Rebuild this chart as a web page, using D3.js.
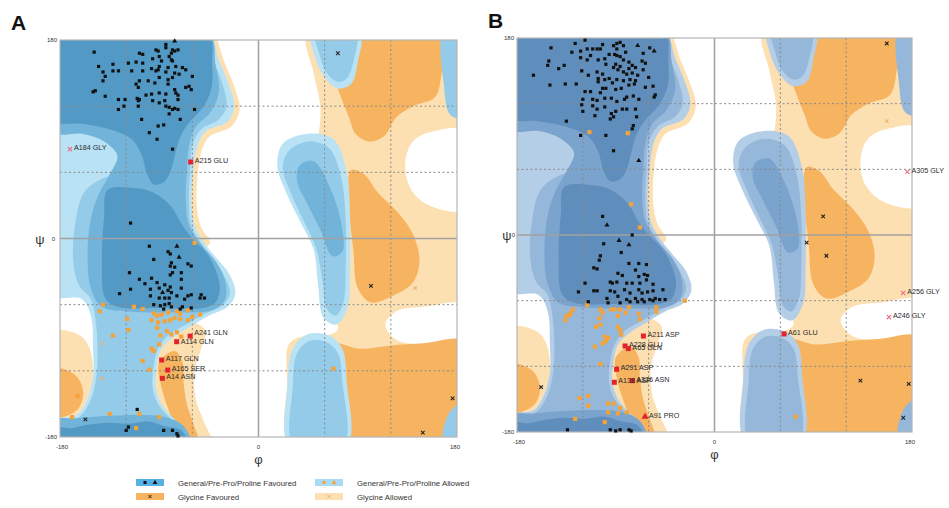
<!DOCTYPE html>
<html>
<head>
<meta charset="utf-8">
<script src="https://cdn.jsdelivr.net/npm/d3@7"></script>
<style>
  body { margin: 0; background: #fff; font-family: Arial, "Liberation Sans", sans-serif; }
</style>
</head>
<body>
<svg id="chart" width="949" height="508"></svg>
<script>
// ---- contour regions, [phi, psi] in degrees ----
const gaRight = [[45,180],[180,180],[180,-180],[30,-180],[26,-130],[28,-95],[45,-88],[62,-88],[72,-82],[62,-60],[56,-30],[52,0],[48,30],[47,60],[54,90],[56,120],[50,150]];
const gaLeftEdge = [[-180,-85],[-162,-88],[-153,-100],[-150,-125],[-155,-145],[-165,-160],[-180,-165]];
const gaStrip = [[-60,-76],[-48,-84],[-52,-100],[-58,-120],[-57,-145],[-50,-165],[-42,-180],[-80,-180],[-92,-150],[-98,-120],[-95,-95],[-78,-84]];
const gaTopEdge = [[-70,180],[-43,180],[-31,160],[-21,135],[-17,118],[-24,102],[-45,92],[-52,78],[-55,60],[-56,30],[-52,10],[-44,-4],[-55,-10],[-70,0]];
const cutTop = [[180,97],[158,97],[140,88],[133,68],[138,45],[155,30],[180,27]];
const cutMid = [[180,-60],[150,-62],[125,-66],[115,-78],[125,-92],[150,-96],[180,-95]];

const gfTop = [[68,180],[168,180],[166,150],[160,128],[140,120],[125,110],[114,93],[100,88],[88,95],[82,110],[76,125],[68,150]];
const gfMid = [[84,62],[96,58],[108,42],[126,24],[140,4],[146,-20],[140,-40],[122,-52],[102,-58],[90,-45],[86,-10],[82,30]];
const gfBottom = [[66,-96],[92,-100],[120,-97],[150,-95],[180,-94],[180,-180],[70,-180],[64,-140]];
const gfStrip = [[-76,-102],[-69,-112],[-68,-130],[-65,-150],[-59,-168],[-54,-180],[-72,-180],[-80,-160],[-88,-135],[-90,-112]];
const gfLeftEdge = [[-180,-118],[-166,-124],[-159,-140],[-165,-156],[-180,-162]];

const genL1 = [[-180,180],[-47,180],[-36,162],[-27,140],[-22,120],[-28,106],[-48,97],[-56,82],[-59,60],[-61,35],[-58,12],[-50,-3],[-38,-18],[-26,-33],[-21,-50],[-28,-62],[-45,-70],[-62,-80],[-78,-90],[-88,-100],[-92,-115],[-93,-135],[-88,-150],[-78,-162],[-68,-172],[-62,-180],[-180,-180],[-180,-165],[-165,-160],[-155,-145],[-150,-125],[-150,-100],[-152,-70],[-160,-55],[-180,-50]];
const genL2 = [[-180,180],[-49,180],[-40,160],[-32,138],[-29,120],[-36,108],[-52,99],[-60,84],[-62,60],[-63,35],[-61,12],[-53,-3],[-40,-20],[-30,-36],[-26,-50],[-33,-61],[-48,-68],[-64,-77],[-82,-88],[-91,-100],[-95,-115],[-96,-135],[-91,-150],[-81,-162],[-71,-172],[-65,-180],[-180,-180],[-180,-168],[-163,-162],[-152,-146],[-147,-125],[-146,-100],[-148,-72],[-152,-55],[-163,-42],[-168,-20],[-166,15],[-158,42],[-140,55],[-118,60],[-108,75],[-122,90],[-150,96],[-180,100]];
const genL3 = [[-180,180],[-46,180],[-39,158],[-36,132],[-44,114],[-57,101],[-63,84],[-65,60],[-66,35],[-63,12],[-53,-4],[-38,-22],[-30,-40],[-31,-57],[-42,-65],[-80,-67],[-120,-66],[-142,-62],[-152,-45],[-155,-15],[-152,18],[-145,40],[-135,58],[-128,75],[-140,88],[-160,95],[-180,97]];
const genL3c = [[-180,-180],[-62,-180],[-68,-170],[-84,-162],[-110,-160],[-140,-161],[-165,-163],[-180,-165]];
const genL4a = [[-180,180],[-47,180],[-42,158],[-43,135],[-51,118],[-63,105],[-71,92],[-76,75],[-80,60],[-86,51],[-95,49],[-101,58],[-106,76],[-115,90],[-135,99],[-160,104],[-180,108]];
const genL4b = [[-137,44],[-115,46],[-96,42],[-80,30],[-69,12],[-60,0],[-48,-12],[-39,-28],[-35,-45],[-39,-58],[-50,-63],[-90,-63],[-128,-62],[-139,-54],[-142,-20],[-140,20]];
const genL4c = [[-180,-180],[-64,-180],[-70,-174],[-86,-170],[-100,-166],[-118,-168],[-135,-167],[-155,-169],[-170,-172],[-180,-171]];

const r1L1 = [[22,86],[45,95],[68,90],[80,60],[83,20],[83,-30],[81,-62],[71,-78],[59,-72],[54,-42],[50,-10],[38,15],[25,42],[17,66]];
const r1L2 = [[28,80],[46,88],[64,82],[75,55],[79,18],[79,-28],[77,-58],[70,-70],[62,-64],[58,-38],[52,-8],[40,18],[29,42],[22,64]];
const r1L3 = [[37,66],[50,70],[64,48],[75,14],[76,-12],[67,-16],[56,8],[44,32],[35,52]];
const r2L1 = [[48,180],[92,180],[90,160],[84,140],[72,136],[60,146],[50,168]];
const r2L2 = [[52,180],[88,180],[86,160],[80,145],[72,142],[62,150],[55,168]];
const r3L1 = [[28,-180],[80,-180],[80,-130],[76,-100],[64,-88],[44,-87],[31,-100],[26,-135]];
const r3L2 = [[32,-180],[77,-180],[76,-130],[72,-104],[62,-94],[46,-93],[35,-104],[31,-135]];
const r4 = [[168,180],[180,180],[180,110],[174,112],[168,140]];
const r5 = [[168,-180],[180,-180],[180,-148],[173,-158]];

// ---- residues, panel A ----
const aFav = [[-84,176],[-149,169],[-108,168],[-105,167],[-93,171],[-91,170],[-84,173],[-78,171],[-76,170],[-73,171],[-79,168],[-81,165],[-79,162],[-78,161],[-90,165],[-96,163],[-88,161],[-145,156],[-132,158],[-118,159],[-111,160],[-105,159],[-97,154],[-90,156],[-91,153],[-82,155],[-75,156],[-69,155],[-66,153],[-141,151],[-139,147],[-132,152],[-127,152],[-115,152],[-105,152],[-93,152],[-84,151],[-76,150],[-141,143],[-108,143],[-100,143],[-94,141],[-90,146],[-82,144],[-78,146],[-72,149],[-60,147],[-148,134],[-150,133],[-139,129],[-111,140],[-109,137],[-82,140],[-76,135],[-66,137],[-63,138],[-61,135],[-127,126],[-121,126],[-110,127],[-108,126],[-109,125],[-102,130],[-97,131],[-90,132],[-84,131],[-75,132],[-73,130],[-73,126],[-96,125],[-90,123],[-85,125],[-84,120],[-81,119],[-76,118],[-78,117],[-73,117],[-58,117],[-127,117],[-122,120],[-109,120],[-81,113],[-71,108],[-106,108],[-91,102],[-86,103],[-99,96],[-92,90],[-78,81],[-116,14],
  [-99,-7],[-82,-12],[-80,-14],[-95,-19],[-79,-22],[-80,-25],[-76,-26],[-64,-23],[-61,-25],[-117,-31],[-108,-37],[-97,-36],[-80,-33],[-78,-31],[-70,-31],[-70,-37],[-103,-41],[-92,-40],[-85,-42],[-80,-44],[-116,-46],[-98,-46],[-90,-45],[-82,-47],[-79,-49],[-70,-45],[-64,-52],[-61,-51],[-126,-50],[-98,-52],[-90,-54],[-85,-54],[-81,-54],[-74,-52],[-52,-51],[-49,-54],[-53,-54],[-67,-55],[-95,-60],[-89,-61],[-85,-60],[-81,-59],[-79,-62],[-69,-62],[-61,-63],[-86,-64],[-71,-64],
  [-110,-155],[-118,-171],[-120,-174],[-86,-174],[-78,-174],[-74,-177],[-73,-179]];
const aFavTri = [[-76,179],[-74,-7],[-72,-17],[-87,-49]];
const aAllowed = [[-141,-60],[-113,-62],[-105,-64],[-95,-68],[-92,-70],[-88,-69],[-82,-67],[-74,-66],[-71,-68],[-64,-65],[-60,-71],[-53,-69],[-97,-74],[-91,-76],[-85,-75],[-80,-74],[-76,-72],[-71,-73],[-64,-74],[-119,-73],[-92,-81],[-83,-84],[-74,-85],[-118,-83],[-132,-88],[-89,-88],[-79,-87],[-70,-89],[-144,-66],[-90,-96],[-97,-100],[-95,-102],[-105,-111],[-99,-119],[-164,-143],[-169,-162],[-135,-159],[-108,-159],[-90,-162],[-111,-172],[68,-118],[-58,-4]];
const aGlyFav = [[72,168],[102,-43],[176,-145],[149,-176],[-157,-164]];
const aGlyAllowed = [[-142,-95],[-142,-127],[142,-45]];
const aOutliers = [[-61.5,69.4,"A215 GLU"],[-62,-88.5,"A241 GLN"],[-74.2,-93.6,"A114 GLN"],[-87.8,-110.2,"A117 GLN"],[-82.3,-119.3,"A165 SER"],[-87.2,-126.8,"A14 ASN"]];
const aGlyOutliers = [[-171,81,"A184 GLY"]];
const aProOutliers = [];

// ---- residues, panel B ----
const bFav = [[-118,178],[-127,175],[-149,171],[-130,167],[-122,168],[-116,170],[-111,170],[-107,170],[-104,170],[-102,174],[-92,173],[-89,175],[-86,176],[-83,173],[-89,170],[-91,165],[-89,164],[-86,163],[-81,167],[-65,166],[-59,171],[-151,159],[-152,155],[-142,152],[-137,155],[-165,146],[-122,162],[-116,160],[-113,164],[-106,160],[-100,161],[-96,165],[-99,156],[-90,156],[-86,154],[-83,160],[-78,158],[-75,155],[-72,153],[-78,152],[-66,159],[-63,157],[-65,151],[-121,150],[-115,146],[-107,149],[-102,147],[-92,153],[-88,151],[-83,149],[-80,147],[-75,148],[-70,146],[-60,144],[-150,137],[-136,138],[-126,138],[-106,143],[-106,140],[-100,142],[-96,143],[-93,139],[-89,142],[-83,141],[-77,142],[-72,141],[-73,138],[-78,137],[-85,134],[-90,133],[-99,134],[-102,134],[-118,131],[-113,131],[-104,130],[-63,135],[-56,136],[-54,128],[-55,126],[-120,124],[-111,124],[-107,123],[-100,125],[-94,125],[-89,122],[-82,124],[-80,126],[-74,127],[-69,124],[-121,119],[-111,118],[-107,115],[-100,117],[-90,113],[-84,115],[-80,115],[-72,115],[-120,113],[-109,109],[-94,111],[-92,108],[-71,108],[-95,106],[-74,100],[-75,97],[-135,104],[-122,91],[-99,91],[-92,77],[-102,17],[-75,0],
  [-101,-8],[-85,-16],[-104,-19],[-105,-23],[-78,-26],[-69,-26],[-62,-27],[-110,-30],[-107,-31],[-88,-35],[-84,-37],[-72,-32],[-69,-38],[-64,-36],[-61,-37],[-118,-44],[-95,-43],[-93,-44],[-89,-43],[-80,-44],[-75,-44],[-68,-44],[-62,-41],[-56,-45],[-124,-52],[-110,-51],[-107,-51],[-95,-51],[-91,-52],[-82,-50],[-77,-53],[-69,-50],[-66,-53],[-61,-52],[-56,-51],[-47,-50],[-98,-58],[-88,-56],[-80,-59],[-72,-58],[-66,-59],[-59,-59],[-54,-58],[-50,-59],[-45,-59],[-115,-61],[-97,-62],[-86,-62],[-77,-61],[-70,-61],[-64,-61],[-56,-60],
  [-134,-178],[-95,-178],[-90,-179],[-86,-178],[-78,-178],[-76,-179]];
const bFavTri = [[-70,173],[-55,168],[-69,68],[-98,9],[-87,-5],[-78,-9]];
const bAllowed = [[-27,-60],[-116,-64],[-104,-68],[-102,-71],[-94,-68],[-91,-68],[-86,-68],[-78,-66],[-69,-72],[-68,-77],[-53,-66],[-53,-70],[-88,-74],[-81,-71],[-129,-68],[-132,-73],[-136,-78],[-105,-76],[-104,-82],[-88,-84],[-86,-87],[-85,-91],[-100,-93],[-97,-94],[-102,-99],[-109,-102],[-108,-84],[-135,-74],[-131,-71],[-99,-97],[-104,-118],[-123,-149],[-115,-156],[-127,-168],[-100,-171],[-97,-154],[-92,-154],[-86,-158],[-80,-162],[-88,-163],[-97,-162],[-115,-147],[74,-166],[-114,94],[-79,93],[-76,28],[-68,7]];
const bGlyFav = [[157,175],[99,17],[84,-7],[102,-19],[-158,-139],[133,-133],[177,-136],[172,-167]];
const bGlyAllowed = [[157,104]];
const bOutliers = [[-64.8,-92.3,"A211 ASP"],[-81.5,-101.4,"A228 GLU"],[-78.5,-103.8,"A65 GLN"],[-89.2,-122.7,"A291 ASP"],[-91.3,-134.6,"A138 ASP"],[-74.9,-133.1,"A326 ASN"],[63.4,-90.4,"A61 GLU"]];
const bGlyOutliers = [[175.8,57.8,"A305 GLY"],[172,-53,"A256 GLY"],[159,-75,"A246 GLY"]];
const bProOutliers = [[-63.3,-166,"A91 PRO"]];

// label nudges (px) so stacked names stay readable
const labelShift = {"A241 GLN": -2, "A114 GLN": 1};

const gridVals = [-120, -60, 60, 120];

const svg = d3.select("#chart");
const ext = v => v === 180 ? 188 : v === -180 ? -188 : v;

function drawPanel(p) {
    const x = d3.scaleLinear().domain([-180, 180]).range([p.x0, p.x1]);
    const y = d3.scaleLinear().domain([-180, 180]).range([p.y1, p.y0]);

    svg.append("clipPath").attr("id", "clip" + p.name)
        .append("rect")
        .attr("x", p.x0).attr("y", p.y0)
        .attr("width", p.x1 - p.x0).attr("height", p.y1 - p.y0);

    const area = svg.append("g").attr("clip-path", `url(#clip${p.name})`);
    area.append("rect")
        .attr("x", p.x0).attr("y", p.y0)
        .attr("width", p.x1 - p.x0).attr("height", p.y1 - p.y0)
        .attr("fill", "#fff");

    const line = d3.line()
        .x(d => x(ext(d[0])))
        .y(d => y(ext(d[1])))
        .curve(d3.curveCatmullRomClosed.alpha(0.5));

    const fill = (shapes, color) => {
        shapes.forEach(s => area.append("path").attr("d", line(s)).attr("fill", color));
    };

    fill([gaRight, gaLeftEdge, gaStrip, gaTopEdge], p.gAllowed);
    fill([cutTop, cutMid], "#fff");
    fill([gfTop, gfMid, gfBottom, gfStrip, gfLeftEdge], p.gFav);
    fill([genL1, r1L1, r2L1, r3L1], p.c1);
    fill([genL2, r1L2, r2L2, r3L2, r4, r5], p.c2);
    fill([genL3, genL3c, r1L3], p.c3);
    fill([genL4a, genL4b, genL4c], p.c4);

    // dotted grid
    gridVals.forEach(v => {
        area.append("line")
            .attr("x1", x(v)).attr("x2", x(v)).attr("y1", p.y0).attr("y2", p.y1)
            .attr("stroke", "#8a8a8a").attr("stroke-width", 1).attr("stroke-dasharray", "2,2.5");
        area.append("line")
            .attr("y1", y(v)).attr("y2", y(v)).attr("x1", p.x0).attr("x2", p.x1)
            .attr("stroke", "#8a8a8a").attr("stroke-width", 1).attr("stroke-dasharray", "2,2.5");
    });
    area.append("line")
        .attr("x1", x(0)).attr("x2", x(0)).attr("y1", p.y0).attr("y2", p.y1)
        .attr("stroke", "#a0a0a0").attr("stroke-width", 1.5);
    area.append("line")
        .attr("y1", y(0)).attr("y2", y(0)).attr("x1", p.x0).attr("x2", p.x1)
        .attr("stroke", "#a0a0a0").attr("stroke-width", 1.5);

    svg.append("rect")
        .attr("x", p.x0).attr("y", p.y0)
        .attr("width", p.x1 - p.x0).attr("height", p.y1 - p.y0)
        .attr("fill", "none").attr("stroke", "#b5b5b5").attr("stroke-width", 1.2);

    // points
    const pts = svg.append("g");
    const sq = (data, size, color) => {
        pts.selectAll(null).data(data).join("rect")
            .attr("x", d => x(d[0]) - size / 2)
            .attr("y", d => y(d[1]) - size / 2)
            .attr("width", size).attr("height", size)
            .attr("fill", color);
    };
    const sym = (data, type, size, color, stroke) => {
        pts.selectAll(null).data(data).join("path")
            .attr("transform", d => `translate(${x(d[0])},${y(d[1])})`)
            .attr("d", d3.symbol().type(type).size(size))
            .attr("fill", stroke ? "none" : color)
            .attr("stroke", stroke ? color : "none")
            .attr("stroke-width", stroke ? 1.1 : 0);
    };

    sq(p.allowed, 4.2, p.allowedColor);
    sq(p.fav, 3.2, "#111");
    sym(p.favTri, d3.symbolTriangle, 11, "#111", false);
    sym(p.glyFav, d3.symbolX, 10, "#222", true);
    sym(p.glyAllowed, d3.symbolX, 10, "#eab574", true);
    sq(p.outliers, 5, "#e3232b");
    sym(p.proOutliers, d3.symbolTriangle, 22, "#e3232b", false);
    sym(p.glyOutliers, d3.symbolX, 14, "#e8708c", true);

    const labels = svg.append("g")
        .attr("font-size", 7.2).attr("fill", "#2a2a2a");
    labels.selectAll(null)
        .data(p.outliers.concat(p.glyOutliers, p.proOutliers))
        .join("text")
        .attr("x", d => x(d[0]) + 4)
        .attr("y", d => y(d[1]) + 1 + (labelShift[d[2]] || 0))
        .text(d => d[2]);

    // axis texts
    const t = svg.append("g").attr("font-size", 6).attr("fill", "#333");
    t.append("text").attr("x", p.x0 - 3).attr("y", p.y0 + 2).attr("text-anchor", "end").text("180");
    t.append("text").attr("x", p.x0 - 3).attr("y", p.y1 + 2).attr("text-anchor", "end").text("-180");
    t.append("text").attr("x", p.x0 - p.zeroGap).attr("y", y(0) + 2).attr("text-anchor", "end").text("0");
    t.append("text").attr("x", x(-180) + 2).attr("y", p.y1 + 12).attr("text-anchor", "middle").text("-180");
    t.append("text").attr("x", x(0)).attr("y", p.y1 + 12).attr("text-anchor", "middle").text("0");
    t.append("text").attr("x", x(180) - 2).attr("y", p.y1 + 12).attr("text-anchor", "middle").text("180");

    svg.append("text").attr("x", p.x0 - p.psiGap).attr("y", y(0) + 5)
        .attr("text-anchor", "middle").attr("font-size", 13).attr("fill", "#333").text("ψ");
    svg.append("text").attr("x", x(0)).attr("y", p.y1 + 27)
        .attr("text-anchor", "middle").attr("font-size", 13).attr("fill", "#333").text("φ");

    svg.append("text").attr("x", p.letterX).attr("y", p.letterY)
        .attr("font-size", 21).attr("font-weight", "bold").attr("fill", "#111").text(p.name);
}

drawPanel({
    name: "A", x0: 60, x1: 457, y0: 40, y1: 437,
    c1: "#b9e3f5", c2: "#93cbe9", c3: "#72b3da", c4: "#5299c6",
    gFav: "#f7b460", gAllowed: "#fde0b2", allowedColor: "#f3a33a",
    zeroGap: 5, psiGap: 20, letterX: 11, letterY: 30,
    fav: aFav, favTri: aFavTri, allowed: aAllowed, glyFav: aGlyFav, glyAllowed: aGlyAllowed,
    outliers: aOutliers, glyOutliers: aGlyOutliers, proOutliers: aProOutliers
});

drawPanel({
    name: "B", x0: 517, x1: 912, y0: 38, y1: 432,
    c1: "#b5cee7", c2: "#95b8da", c3: "#7aa3cd", c4: "#5f8ebc",
    gFav: "#f7b460", gAllowed: "#fde0b2", allowedColor: "#f3a33a",
    zeroGap: 2, psiGap: 10, letterX: 488, letterY: 28,
    fav: bFav, favTri: bFavTri, allowed: bAllowed, glyFav: bGlyFav, glyAllowed: bGlyAllowed,
    outliers: bOutliers, glyOutliers: bGlyOutliers, proOutliers: bProOutliers
});

// legend
const legendRows = [
    {x: 136, y: 479, fill: "#56b2e6", text: "General/Pre-Pro/Proline Favoured", marks: ["sq", "tri"], markColor: "#111"},
    {x: 315, y: 479, fill: "#a9dcf4", text: "General/Pre-Pro/Proline Allowed", marks: ["sq", "tri"], markColor: "#f3a33a"},
    {x: 136, y: 493, fill: "#f7b460", text: "Glycine Favoured", marks: ["x"], markColor: "#222"},
    {x: 315, y: 493, fill: "#fde0b2", text: "Glycine Allowed", marks: ["x"], markColor: "#eab574"}
];
const lg = svg.append("g");
legendRows.forEach(r => {
    lg.append("rect").attr("x", r.x).attr("y", r.y).attr("width", 28).attr("height", 7).attr("fill", r.fill);
    r.marks.forEach((m, i) => {
        const cx = r.marks.length === 2 ? r.x + 9 + i * 10 : r.x + 14;
        const cy = r.y + 3.5;
        if (m === "sq") {
            lg.append("rect").attr("x", cx - 1.5).attr("y", cy - 1.5).attr("width", 3).attr("height", 3).attr("fill", r.markColor);
        } else {
            const type = m === "tri" ? d3.symbolTriangle : d3.symbolX;
            lg.append("path").attr("transform", `translate(${cx},${cy})`)
                .attr("d", d3.symbol().type(type).size(m === "tri" ? 10 : 8))
                .attr("fill", m === "tri" ? r.markColor : "none")
                .attr("stroke", m === "x" ? r.markColor : "none");
        }
    });
    lg.append("text").attr("x", r.x + 42).attr("y", r.y + 6.5)
        .attr("font-size", 7.8).attr("fill", "#333").text(r.text);
});
</script>
</body>
</html>
